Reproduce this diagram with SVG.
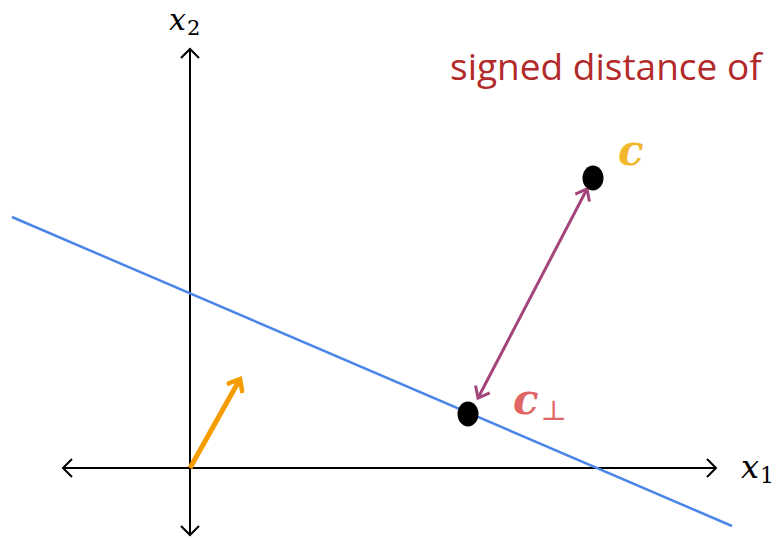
<svg xmlns="http://www.w3.org/2000/svg" width="777" height="539" viewBox="0 0 777 539">
<style>
.ax{stroke:#000;stroke-width:2;fill:none}
.math{font-family:"DejaVu Serif","Liberation Serif",serif;font-style:italic}
.sub{font-family:"DejaVu Serif","Liberation Serif",serif;font-style:normal}
</style>
<defs>
<marker id="open" viewBox="-10 -10 20 20" markerWidth="20" markerHeight="20" refX="0" refY="0" orient="auto" markerUnits="userSpaceOnUse">
<path d="M-9,-9 L0,0 L-9,9" fill="none" stroke="#000" stroke-width="2"/>
</marker>
<marker id="pur" viewBox="-14 -10 20 20" markerWidth="20" markerHeight="20" refX="0" refY="0" orient="auto-start-reverse" markerUnits="userSpaceOnUse">
<path d="M-10,-8 L0,0 L-10,8" fill="none" stroke="#a3457a" stroke-width="3"/>
</marker>
<marker id="org" viewBox="-14 -10 20 20" markerWidth="20" markerHeight="20" refX="0" refY="0" orient="auto" markerUnits="userSpaceOnUse">
<path d="M-11,-9 L0,0 L-11,9" fill="none" stroke="#f59c00" stroke-width="4.5"/>
</marker>
</defs>
<rect width="777" height="539" fill="#fff"/>
<g id="connectors">
<line id="x1axis" class="ax" x1="190" y1="468" x2="716" y2="468" marker-end="url(#open)"/>
<line id="x1axisneg" class="ax" x1="190" y1="468" x2="63" y2="468" marker-end="url(#open)"/>
<line id="x2axis" class="ax" x1="190" y1="468" x2="190" y2="49" marker-end="url(#open)"/>
<line id="x2axisneg" class="ax" x1="190" y1="468" x2="190" y2="535" marker-end="url(#open)"/>
<line id="line" x1="12" y1="217" x2="732" y2="526" stroke="#4a86e8" stroke-width="2.5"/>
<line id="dist" x1="478" y1="398" x2="587" y2="189" stroke="#a3457a" stroke-width="3" marker-start="url(#pur)" marker-end="url(#pur)"/>
<line id="normal" x1="190" y1="468" x2="240" y2="379" stroke="#f59c00" stroke-width="5" marker-end="url(#org)"/>
</g>
<g id="c">
<ellipse cx="593" cy="178" rx="10.5" ry="12.5" fill="#000"/>
<text x="618" y="165" class="math" font-size="42" font-weight="bold" fill="#f1b82d">c</text>
</g>
<g id="cperp">
<ellipse cx="468" cy="414" rx="10.5" ry="12.5" fill="#000"/>
<text x="513" y="414" class="math" font-size="42" font-weight="bold" fill="#e06666">c<tspan class="sub" font-weight="normal" font-style="normal" font-size="28" dx="2" dy="6">⊥</tspan></text>
</g>
<g id="labels">
<text x="169" y="30" class="math" font-size="30">x<tspan class="sub" font-style="normal" font-size="21" dx="1" dy="5">2</tspan></text>
<text x="741" y="478" class="math" font-size="32">x<tspan class="sub" font-style="normal" font-size="22" dx="1" dy="5">1</tspan></text>
<text x="450" y="80" font-family="Open Sans, sans-serif" font-size="37" fill="#b22a2a">signed distance of</text>
</g>
</svg>
